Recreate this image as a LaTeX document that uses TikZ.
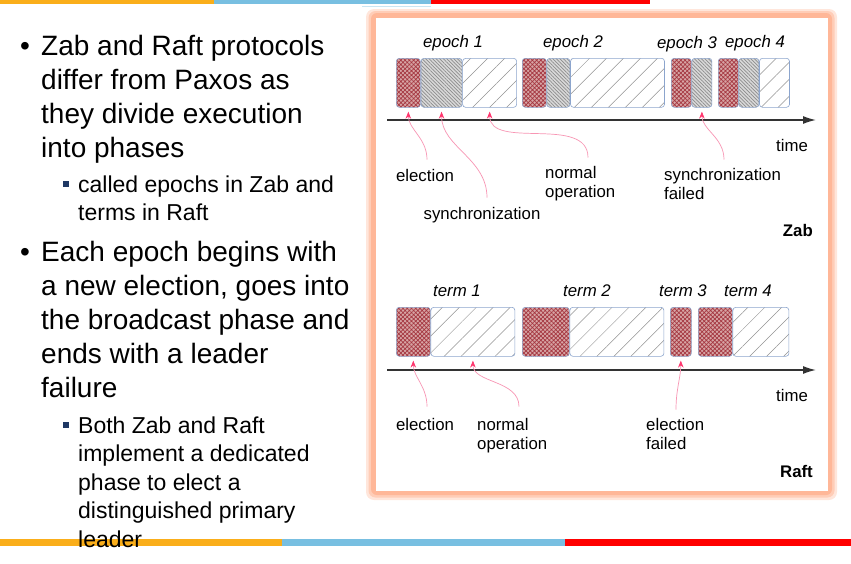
\documentclass[tikz,border=0pt]{standalone}
\usepackage{fontspec}
\setmainfont{Liberation Sans}
\usepackage{xcolor}
\usetikzlibrary{arrows.meta, patterns.meta, calc, positioning}

\definecolor{barorange}{RGB}{250,174,26}
\definecolor{barblue}{RGB}{120,191,225}
\definecolor{barred}{RGB}{255,0,0}
\definecolor{glow}{RGB}{255,183,152}
\definecolor{blkline}{RGB}{140,165,205}
\definecolor{elecfill}{RGB}{215,165,165}
\definecolor{elecdot}{RGB}{165,55,65}
\definecolor{annpink}{RGB}{255,55,110}
\definecolor{annline}{RGB}{248,150,180}
\definecolor{navy}{RGB}{31,56,100}

\newcommand{\bigtext}{\fontsize{28}{34}\selectfont}
\newcommand{\subtext}{\fontsize{23}{28.5}\selectfont}
\newcommand{\lbltext}{\fontsize{16.8}{19}\selectfont}

\tikzset{
  blk/.style={draw=blkline, line width=0.6pt, rounded corners=3pt, inner sep=0pt,
    anchor=north west, minimum height=49pt},
  elec/.style={blk, preaction={fill=elecfill},
    pattern={Hatch[angle=45,distance=3pt,line width=0.7pt]}, pattern color=elecdot},
  sync/.style={blk, preaction={fill=gray!30},
    pattern={Lines[angle=-45,distance=2.5pt,line width=0.7pt]}, pattern color=gray!90},
  norm/.style={blk, preaction={fill=white},
    pattern={Lines[angle=45,distance=12pt,line width=0.5pt]}, pattern color=gray!85},
  lbl/.style={inner sep=0pt, font=\lbltext},
  ann/.style={annline, line width=0.7pt, shorten >=4pt,
    -{Stealth[length=7pt,width=5.5pt,color=annpink]}},
  axis/.style={black!80, line width=1.4pt, -{Latex[length=13pt,width=8pt]}},
  sq/.style={fill=navy, minimum size=6pt, inner sep=0pt},
}

\begin{document}
\begin{tikzpicture}[x=1pt, y=1pt]
\useasboundingbox (0,0) rectangle (851,-563);

% slide bars
\fill[barorange] (0,0) rectangle (214,-4);
\fill[barblue] (214,0) rectangle (431,-4);
\fill[barred] (431,0) rectangle (650,-4);
\draw[barblue!40, line width=1pt] (362,-6) -- (431,-6);
\fill[barorange] (0,-539) rectangle (282,-546);
\fill[barblue] (282,-539) rectangle (565,-546);
\fill[barred] (565,-539) rectangle (851,-546);

% panel with glow
\fill[glow!35, rounded corners=8pt] (366,-9) rectangle (837,-500);
\fill[glow!70, rounded corners=7pt] (368.5,-11) rectangle (834.5,-497.5);
\fill[glow, rounded corners=6pt] (371,-13) rectangle (832,-495);
\fill[white] (376,-18) rectangle (828,-491);

% left text
\node[anchor=base, inner sep=0pt, font=\bigtext] (b1) at (25,-55) {\textbullet};
\node[anchor=base west, inner sep=0pt, font=\bigtext] (p1) at (41,-55)
  {\begin{tabular}[t]{@{}l@{}}Zab and Raft protocols\\ differ from Paxos as\\
   they divide execution\\ into phases\end{tabular}};
\node[sq] (q1) at (66,-183.5) {};
\node[anchor=base west, inner sep=0pt, font=\subtext] (s1) at (78,-192)
  {\begin{tabular}[t]{@{}l@{}}called epochs in Zab and\\ terms in Raft\end{tabular}};
\node[anchor=base, inner sep=0pt, font=\bigtext] (b2) at (25,-261) {\textbullet};
\node[anchor=base west, inner sep=0pt, font=\bigtext] (p2) at (41,-261)
  {\begin{tabular}[t]{@{}l@{}}Each epoch begins with\\ a new election, goes into\\
   the broadcast phase and\\ ends with a leader\\ failure\end{tabular}};
\node[sq] (q2) at (66,-425) {};
\node[anchor=base west, inner sep=0pt, font=\subtext] (s2) at (78,-433)
  {\begin{tabular}[t]{@{}l@{}}Both Zab and Raft\\ implement a dedicated\\
   phase to elect a\\ distinguished primary\\ leader\end{tabular}};

% Zab
\node[lbl, font=\lbltext\itshape, anchor=base] (ep1) at (453,-47) {epoch 1};
\node[lbl, font=\lbltext\itshape, anchor=base] (ep2) at (573,-47) {epoch 2};
\node[lbl, font=\lbltext\itshape, anchor=base] (ep3) at (687,-48) {epoch 3};
\node[lbl, font=\lbltext\itshape, anchor=base] (ep4) at (755,-47) {epoch 4};

\node[elec, minimum width=24pt] (ze1) at (396,-58) {};
\node[sync, minimum width=41pt, right=0pt of ze1] (zs1) {};
\node[norm, minimum width=54pt, right=0pt of zs1] (zn1) {};
\node[elec, minimum width=24pt] (ze2) at (522,-58) {};
\node[sync, minimum width=23pt, right=0pt of ze2] (zs2) {};
\node[norm, minimum width=94pt, right=0pt of zs2] (zn2) {};
\node[elec, minimum width=20pt] (ze3) at (671,-58) {};
\node[sync, minimum width=20pt, right=0pt of ze3] (zs3) {};
\node[elec, minimum width=20pt] (ze4) at (718,-58) {};
\node[sync, minimum width=20pt, right=0pt of ze4] (zs4) {};
\node[norm, minimum width=30pt, right=0pt of zs4] (zn4) {};

\coordinate (zt0) at (387,-120);
\coordinate (zt1) at (816,-120);
\draw[axis] (zt0) -- (zt1);
\node[lbl, anchor=base] (ztime) at (792,-151) {time};

\node[lbl, anchor=base] (zlel) at (425,-181) {election};
\node[lbl, anchor=base] (zlsy) at (482,-219) {synchronization};
\node[lbl, anchor=base west] (zlno) at (545,-178)
  {\begin{tabular}[t]{@{}l@{}}normal\\ operation\end{tabular}};
\node[lbl, anchor=base west] (zlsf) at (664,-180)
  {\begin{tabular}[t]{@{}l@{}}synchronization\\ failed\end{tabular}};
\node[lbl, font=\lbltext\bfseries, anchor=base east] (zab) at (813,-236) {Zab};

\draw[ann] ($(zlel.north)+(2,9)$) to[out=90, in=-90] (ze1.south);
\draw[ann] ($(zlsy.north)+(5,9)$) to[out=90, in=-90] (zs1.south);
\draw[ann] ($(zlno.north west)+(43,7)$) to[out=90, in=-90] (zn1.south);
\draw[ann] ($(zlsf.north west)+(60,7)$) to[out=90, in=-90] (zs3.south);

% Raft
\node[lbl, font=\lbltext\itshape, anchor=base] (tm1) at (457,-296) {term 1};
\node[lbl, font=\lbltext\itshape, anchor=base] (tm2) at (587,-296) {term 2};
\node[lbl, font=\lbltext\itshape, anchor=base] (tm3) at (683,-296) {term 3};
\node[lbl, font=\lbltext\itshape, anchor=base] (tm4) at (748,-296) {term 4};

\node[elec, minimum width=34pt] (re1) at (396,-307) {};
\node[norm, minimum width=84pt, right=0pt of re1] (rn1) {};
\node[elec, minimum width=47pt] (re2) at (522,-307) {};
\node[norm, minimum width=94pt, right=0pt of re2] (rn2) {};
\node[elec, minimum width=21pt] (re3) at (670,-307) {};
\node[elec, minimum width=34pt] (re4) at (698,-307) {};
\node[norm, minimum width=56pt, right=0pt of re4] (rn4) {};

\coordinate (rt0) at (387,-370);
\coordinate (rt1) at (816,-370);
\draw[axis] (rt0) -- (rt1);
\node[lbl, anchor=base] (rtime) at (792,-401) {time};

\node[lbl, anchor=base] (rlel) at (425,-430) {election};
\node[lbl, anchor=base west] (rlno) at (477,-430)
  {\begin{tabular}[t]{@{}l@{}}normal\\ operation\end{tabular}};
\node[lbl, anchor=base west] (rlef) at (646,-430)
  {\begin{tabular}[t]{@{}l@{}}election\\ failed\end{tabular}};
\node[lbl, font=\lbltext\bfseries, anchor=base east] (raft) at (813,-477) {Raft};

\draw[ann] ($(rlel.north)+(2,11)$) to[out=90, in=-90] (re1.south);
\draw[ann] ($(rlno.north west)+(42,10)$) to[out=90, in=-90] (rn1.south);
\draw[ann] ($(rlef.north west)+(30,7)$) to[out=90, in=-90] (re3.south);
\end{tikzpicture}
\end{document}
